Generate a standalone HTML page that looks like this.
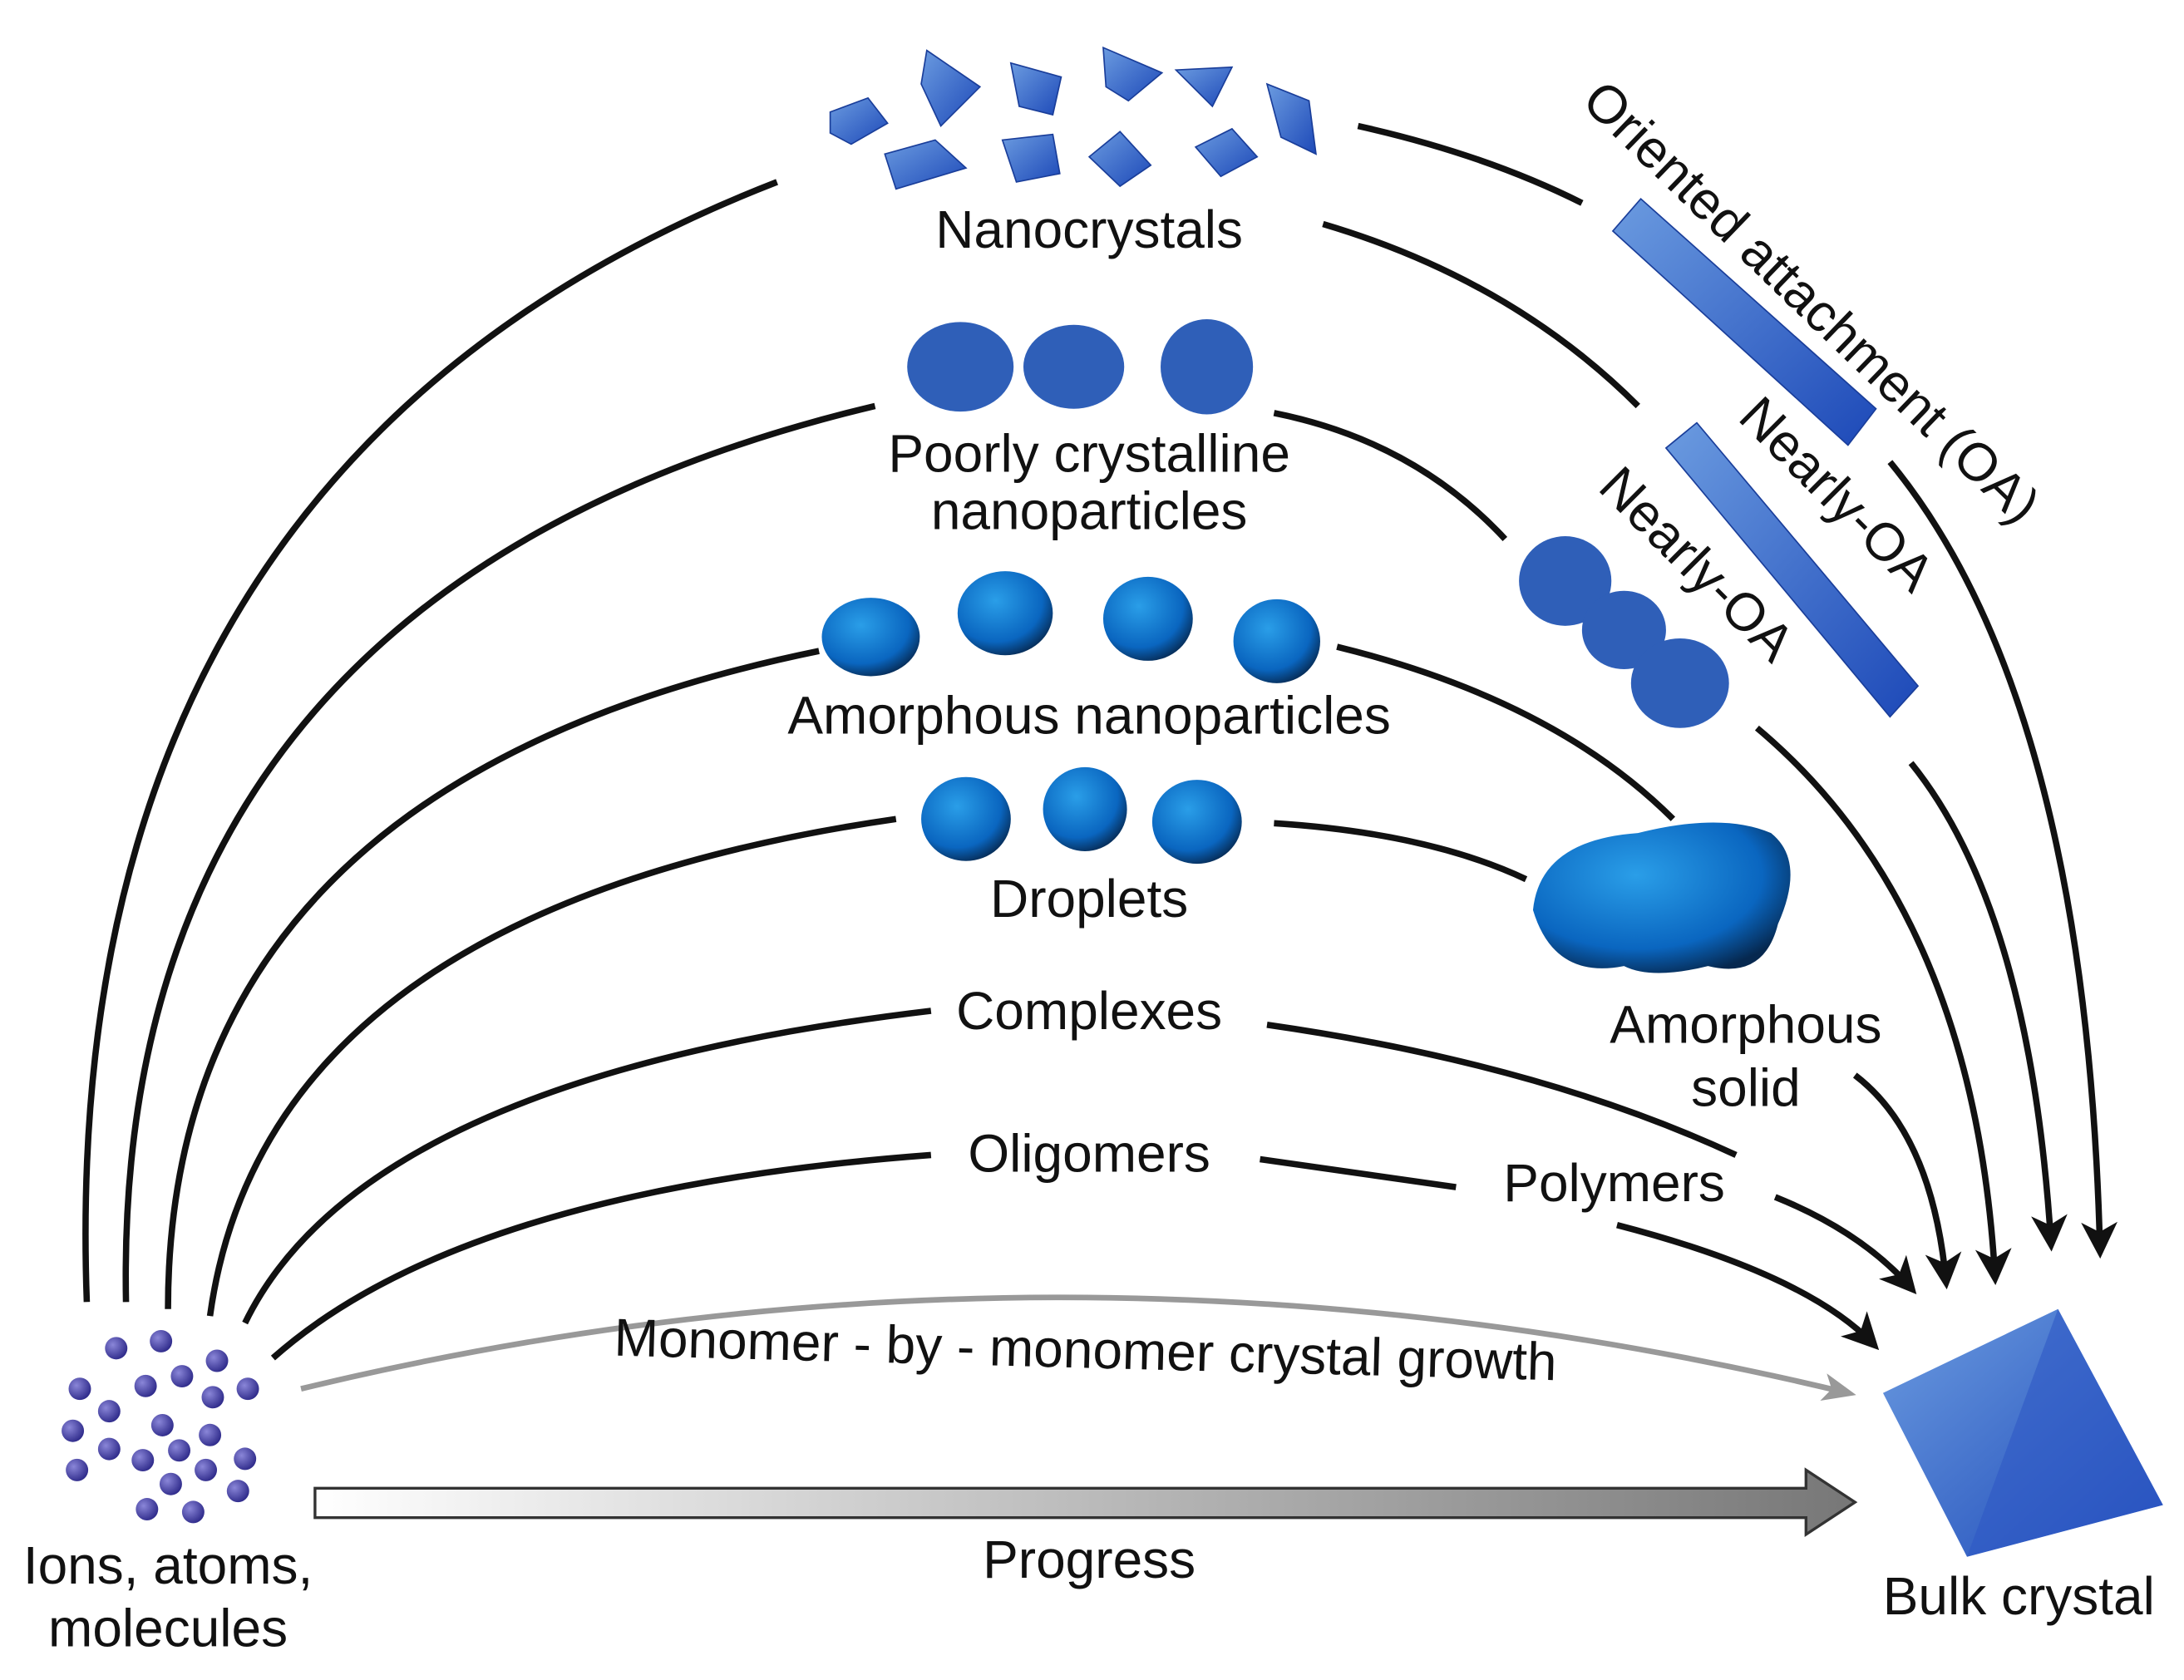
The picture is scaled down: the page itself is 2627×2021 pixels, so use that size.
<!DOCTYPE html>
<html><head><meta charset="utf-8"><style>
html,body{margin:0;padding:0;background:#fff}
svg{display:block}
text{font-family:"Liberation Sans",sans-serif;fill:#111}
</style></head><body>
<svg width="2627" height="2021" viewBox="0 0 1560 1200" preserveAspectRatio="none" xmlns="http://www.w3.org/2000/svg">
<defs>
<marker id="ab" markerWidth="26" markerHeight="26" refX="20" refY="13" orient="auto" markerUnits="userSpaceOnUse" viewBox="0 0 26 26"><path d="M0,0 L26,13 L0,26 L7,13z" fill="#111"/></marker>
<marker id="ag" markerWidth="24" markerHeight="24" refX="18" refY="12" orient="auto" markerUnits="userSpaceOnUse" viewBox="0 0 24 24"><path d="M0,2 L24,12 L0,22 L6,12z" fill="#999"/></marker>
<linearGradient id="pg" x1="0" x2="1"><stop offset="0" stop-color="#fff"/><stop offset="1" stop-color="#777"/></linearGradient>
<radialGradient id="bl" cx="0.4" cy="0.35" r="0.7"><stop offset="0" stop-color="#2a9ee8"/><stop offset="0.7" stop-color="#0a66c0"/><stop offset="1" stop-color="#06284f"/></radialGradient>
<radialGradient id="pu" cx="0.35" cy="0.35" r="0.7"><stop offset="0" stop-color="#8a86d8"/><stop offset="1" stop-color="#2e2a8a"/></radialGradient>
<linearGradient id="cr" x1="0" y1="0" x2="1" y2="1"><stop offset="0" stop-color="#6b9be0"/><stop offset="1" stop-color="#1d49b8"/></linearGradient>
</defs>
<g fill="none" stroke="#111" stroke-width="4.5">
<path d="M62,930 Q40,330 555,130" />
<path d="M90,930 Q80,420 625,290" />
<path d="M120,935 Q120,560 585,465" />
<path d="M150,940 Q190,650 640,585" />
<path d="M175,945 Q260,770 665,722" />
<path d="M195,970 Q330,850 665,825" />
<path d="M970,90 Q1060,110 1130,145" />
<path d="M945,160 Q1080,200 1170,290" />
<path d="M1350,330 Q1490,500 1500,893" marker-end="url(#ab)"/>
<path d="M1365,545 Q1450,650 1465,888" marker-end="url(#ab)"/>
<path d="M1255,520 Q1410,650 1425,912" marker-end="url(#ab)"/>
<path d="M910,295 Q1010,315 1075,385" />
<path d="M955,462 Q1110,500 1195,585" />
<path d="M910,588 Q1020,595 1090,628" />
<path d="M1325,768 Q1380,810 1390,915" marker-end="url(#ab)"/>
<path d="M905,732 Q1100,760 1240,825" />
<path d="M1268,855 Q1330,880 1365,920" marker-end="url(#ab)"/>
<path d="M900,828 L1040,848" />
<path d="M1155,875 Q1290,910 1338,960" marker-end="url(#ab)"/>
</g>
<path d="M215,992 Q760,860 1320,995" fill="none" stroke="#999" stroke-width="4" marker-end="url(#ag)"/>
<path d="M225,1063 L1290,1063 L1290,1050 L1325,1073 L1290,1096 L1290,1084 L225,1084 z" fill="url(#pg)" stroke="#333" stroke-width="2"/>
<g fill="url(#cr)" stroke="#1a3e9a" stroke-width="1">
<polygon points="593,80 620,70 634,88 608,103 593,95"/>
<polygon points="662,36 700,62 672,90 658,60"/>
<polygon points="722,45 758,55 752,82 728,76"/>
<polygon points="788,34 830,52 806,72 790,62"/>
<polygon points="840,50 880,48 866,76"/>
<polygon points="905,60 935,72 940,110 915,98"/>
<polygon points="632,110 668,100 690,120 640,135"/>
<polygon points="716,100 752,96 757,124 726,130"/>
<polygon points="778,112 800,94 822,118 800,133"/>
<polygon points="854,105 880,92 898,112 872,126"/>
<polygon points="1152,165 1172,142 1340,292 1320,318"/>
<polygon points="1190,320 1212,302 1370,490 1350,512"/>
</g>
<g fill="#2f5fb8">
<ellipse cx="686" cy="262" rx="38" ry="32"/><ellipse cx="767" cy="262" rx="36" ry="30"/><ellipse cx="862" cy="262" rx="33" ry="34"/>
<ellipse cx="1118" cy="415" rx="33" ry="32"/><ellipse cx="1160" cy="450" rx="30" ry="28"/><ellipse cx="1200" cy="488" rx="35" ry="32"/>
</g>
<g fill="url(#bl)">
<ellipse cx="622" cy="455" rx="35" ry="28"/><ellipse cx="718" cy="438" rx="34" ry="30"/><ellipse cx="820" cy="442" rx="32" ry="30"/><ellipse cx="912" cy="458" rx="31" ry="30"/>
<ellipse cx="690" cy="585" rx="32" ry="30"/><ellipse cx="775" cy="578" rx="30" ry="30"/><ellipse cx="855" cy="587" rx="32" ry="30"/>
<path d="M1095,650 Q1100,600 1170,595 Q1230,580 1265,595 Q1290,615 1270,660 Q1260,700 1220,690 Q1180,700 1160,690 Q1110,700 1095,650z"/>
</g>
<polygon points="1345,995 1470,935 1545,1075 1405,1112" fill="url(#cr)"/>
<polygon points="1470,935 1545,1075 1405,1112" fill="#2e59c4" opacity="0.6"/>
<g fill="url(#pu)">
<circle cx="83" cy="963" r="8"/><circle cx="115" cy="958" r="8"/><circle cx="155" cy="972" r="8"/>
<circle cx="57" cy="992" r="8"/><circle cx="104" cy="990" r="8"/><circle cx="130" cy="983" r="8"/><circle cx="152" cy="998" r="8"/><circle cx="177" cy="992" r="8"/>
<circle cx="78" cy="1008" r="8"/><circle cx="52" cy="1022" r="8"/><circle cx="116" cy="1018" r="8"/><circle cx="150" cy="1025" r="8"/>
<circle cx="78" cy="1035" r="8"/><circle cx="102" cy="1043" r="8"/><circle cx="128" cy="1036" r="8"/><circle cx="175" cy="1042" r="8"/>
<circle cx="55" cy="1050" r="8"/><circle cx="122" cy="1060" r="8"/><circle cx="147" cy="1050" r="8"/><circle cx="170" cy="1065" r="8"/>
<circle cx="105" cy="1078" r="8"/><circle cx="138" cy="1080" r="8"/>
</g>
<g font-size="38" text-anchor="middle">
<text x="778" y="177">Nanocrystals</text>
<text x="778" y="337">Poorly crystalline</text>
<text x="778" y="378">nanoparticles</text>
<text x="778" y="524">Amorphous nanoparticles</text>
<text x="778" y="655">Droplets</text>
<text x="778" y="735">Complexes</text>
<text x="778" y="837">Oligomers</text>
<text x="1153" y="858">Polymers</text>
<text x="1247" y="745">Amorphous</text>
<text x="1247" y="790">solid</text>
<text x="778" y="1127">Progress</text>
<text x="120" y="1131">Ions, atoms,</text>
<text x="120" y="1176">molecules</text>
<text x="1442" y="1153">Bulk crystal</text>
<text x="775" y="977" transform="rotate(1.5 775 977)">Monomer - by - monomer crystal growth</text>
<text x="1285" y="225" transform="rotate(44 1285 225)">Oriented attachment (OA)</text>
<text x="1303" y="362" transform="rotate(45 1303 362)">Nearly-OA</text>
<text x="1203" y="412" transform="rotate(45 1203 412)">Nearly-OA</text>
</g>
</svg>
</body></html>
